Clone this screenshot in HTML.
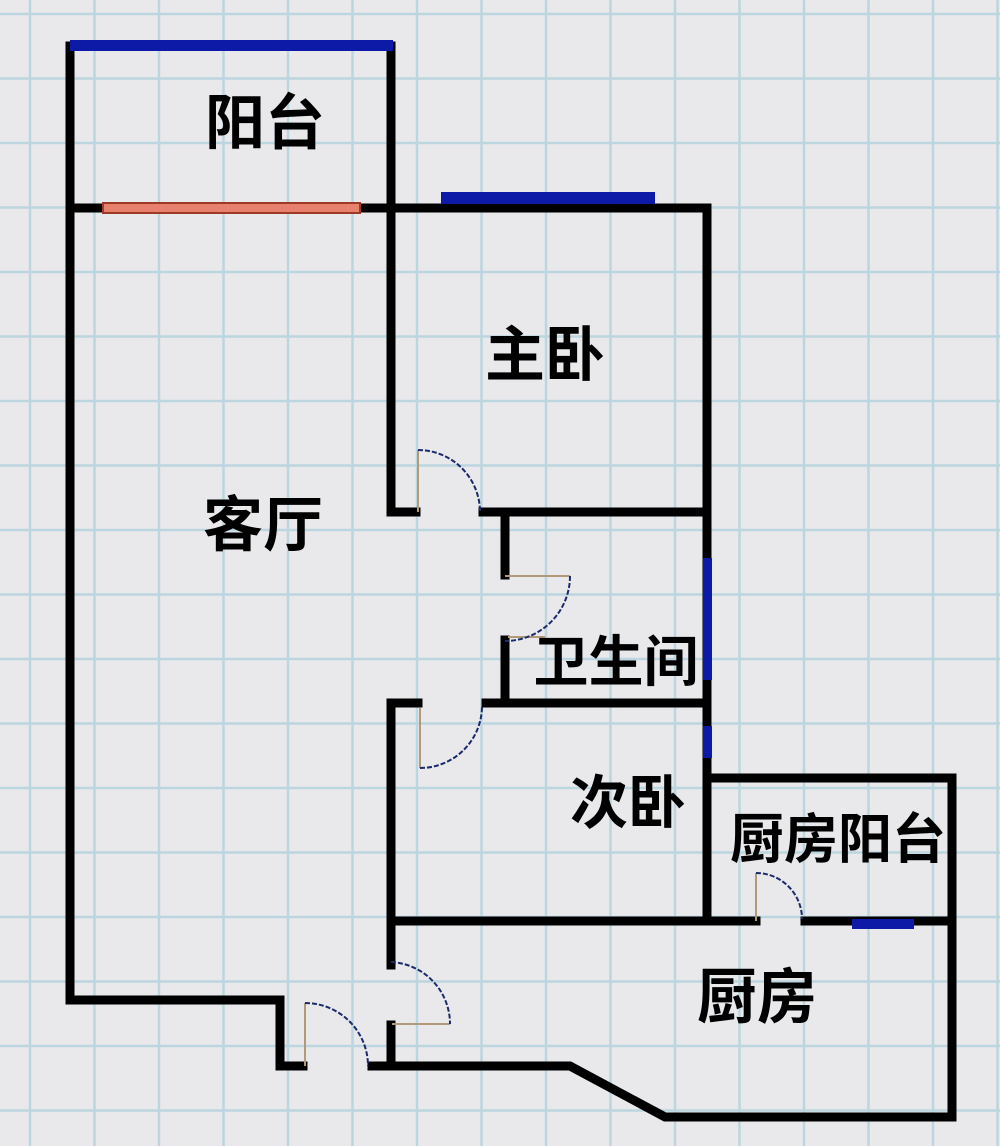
<!DOCTYPE html>
<html><head><meta charset="utf-8"><style>
html,body{margin:0;padding:0;background:#e9e9ec;}
svg{display:block}
text{font-family:"Liberation Sans","Noto Sans CJK SC","WenQuanYi Zen Hei",sans-serif;fill:#000;font-weight:bold}
</style></head><body>
<svg width="1000" height="1146" viewBox="0 0 1000 1146" xmlns="http://www.w3.org/2000/svg">
<rect width="1000" height="1146" fill="#e9e9ec"/>
<g stroke="#bcd6df" stroke-width="2.5">
<line x1="30" y1="0" x2="30" y2="1146"/><line x1="94.5" y1="0" x2="94.5" y2="1146"/><line x1="159" y1="0" x2="159" y2="1146"/><line x1="223.5" y1="0" x2="223.5" y2="1146"/><line x1="288" y1="0" x2="288" y2="1146"/><line x1="352.5" y1="0" x2="352.5" y2="1146"/><line x1="417" y1="0" x2="417" y2="1146"/><line x1="481.5" y1="0" x2="481.5" y2="1146"/><line x1="546" y1="0" x2="546" y2="1146"/><line x1="610.5" y1="0" x2="610.5" y2="1146"/><line x1="675" y1="0" x2="675" y2="1146"/><line x1="739.5" y1="0" x2="739.5" y2="1146"/><line x1="804" y1="0" x2="804" y2="1146"/><line x1="868.5" y1="0" x2="868.5" y2="1146"/><line x1="933" y1="0" x2="933" y2="1146"/><line x1="997.5" y1="0" x2="997.5" y2="1146"/>
<line y1="14" x1="0" y2="14" x2="1000"/><line y1="78.5" x1="0" y2="78.5" x2="1000"/><line y1="143" x1="0" y2="143" x2="1000"/><line y1="207.5" x1="0" y2="207.5" x2="1000"/><line y1="272" x1="0" y2="272" x2="1000"/><line y1="336.5" x1="0" y2="336.5" x2="1000"/><line y1="401" x1="0" y2="401" x2="1000"/><line y1="465.5" x1="0" y2="465.5" x2="1000"/><line y1="530" x1="0" y2="530" x2="1000"/><line y1="594.5" x1="0" y2="594.5" x2="1000"/><line y1="659" x1="0" y2="659" x2="1000"/><line y1="723.5" x1="0" y2="723.5" x2="1000"/><line y1="788" x1="0" y2="788" x2="1000"/><line y1="852.5" x1="0" y2="852.5" x2="1000"/><line y1="917" x1="0" y2="917" x2="1000"/><line y1="981.5" x1="0" y2="981.5" x2="1000"/><line y1="1046" x1="0" y2="1046" x2="1000"/><line y1="1110.5" x1="0" y2="1110.5" x2="1000"/>
</g>
<g stroke="#000" stroke-width="9" fill="none" stroke-linecap="square" stroke-linejoin="miter">
<polyline points="70,46 70,1000 280,1000 280,1066 303,1066"/>
<line x1="391" y1="46" x2="391" y2="208"/>
<line x1="70" y1="208" x2="103" y2="208"/>
<line x1="360" y1="208" x2="707" y2="208"/>
<polyline points="707,208 707,778 952,778 952,1117 665,1117 570,1066 372,1066"/>
<polyline points="416,512 391,512 391,208"/>
<polyline points="483,512 707,512"/>
<polyline points="505,512 505,575"/>
<polyline points="505,640 505,703"/>
<polyline points="486,703 707,703"/>
<polyline points="418,703 391,703 391,965"/>
<line x1="391" y1="1025" x2="391" y2="1066"/>
<line x1="391" y1="921" x2="756" y2="921"/>
<line x1="805" y1="921" x2="952" y2="921"/>
<line x1="707" y1="778" x2="707" y2="921"/>
</g>
<g fill="#0d1aa8">
<rect x="70" y="40" width="323" height="11"/>
<rect x="441" y="192" width="214" height="12"/>
<rect x="703" y="558" width="9" height="122"/>
<rect x="703" y="726" width="9" height="32"/>
<rect x="852" y="919" width="62" height="10"/>
</g>
<rect x="103" y="203" width="257" height="10" fill="#e8806e" stroke="#a03828" stroke-width="2"/>
<g stroke="#b09a7a" stroke-width="2" fill="none">
<line x1="418" y1="450" x2="418" y2="512"/>
<line x1="505" y1="576" x2="570" y2="576"/>
<line x1="508" y1="637" x2="545" y2="637"/>
<line x1="420" y1="708" x2="420" y2="768"/>
<line x1="756" y1="873" x2="756" y2="921"/>
<line x1="392" y1="1024" x2="450" y2="1024"/>
<line x1="305" y1="1003" x2="305" y2="1066"/>
</g>
<g stroke="#1a2a6a" stroke-width="2" fill="none" stroke-dasharray="5,2">
<path d="M418,450 A62,62 0 0 1 480,512"/>
<path d="M570,576 A65,65 0 0 1 505,641"/>
<path d="M420,768 A62,62 0 0 0 482,706"/>
<path d="M756,873 A46,46 0 0 1 802,919"/>
<path d="M391,962 A62,62 0 0 1 450,1024"/>
<path d="M305,1003 A63,63 0 0 1 368,1066"/>
</g>
<text x="265" y="144" font-size="60" text-anchor="middle">阳台</text>
<text x="545" y="376" font-size="60" text-anchor="middle">主卧</text>
<text x="263" y="546" font-size="60" text-anchor="middle">客厅</text>
<text x="616" y="681" font-size="55" text-anchor="middle">卫生间</text>
<text x="628" y="823" font-size="58" text-anchor="middle">次卧</text>
<text x="838" y="858" font-size="54" text-anchor="middle">厨房阳台</text>
<text x="757" y="1018" font-size="60" text-anchor="middle">厨房</text>
</svg>
</body></html>
